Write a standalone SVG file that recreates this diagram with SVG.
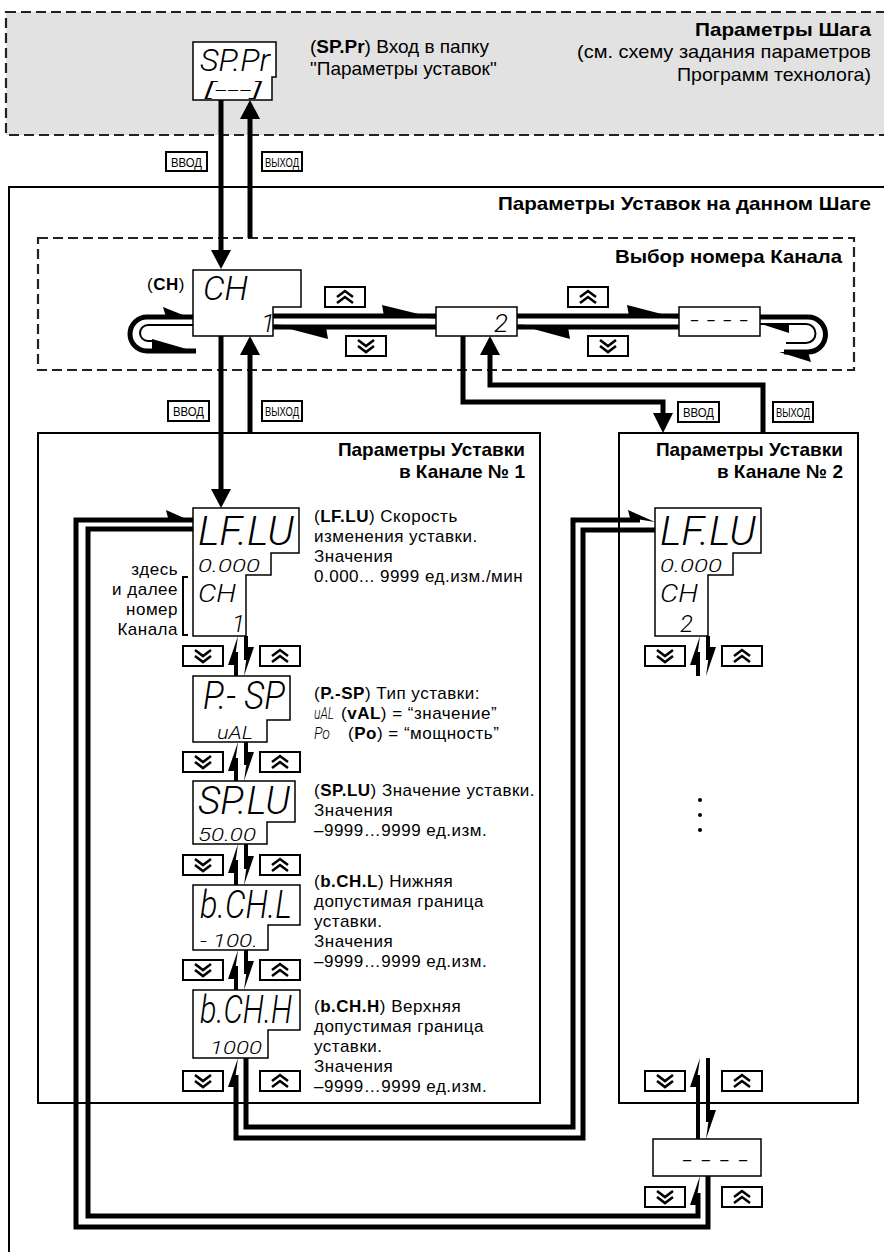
<svg xmlns="http://www.w3.org/2000/svg" xmlns:xlink="http://www.w3.org/1999/xlink" width="884" height="1252" viewBox="0 0 884 1252">
<style>
.ln{fill:none;stroke:#000;stroke-width:5;stroke-linejoin:miter}
.hp{fill:none;stroke:#000;stroke-width:4}
.tn{fill:none;stroke:#000;stroke-width:2}
.disp{fill:#fff;stroke:#000;stroke-width:1.5}
.btn{fill:#fff;stroke:#000;stroke-width:2}
.chev{fill:none;stroke:#000;stroke-width:2.6}
.seg{font-family:"DejaVu Sans ExtraLight",Roboto,"DejaVu Sans",sans-serif;font-weight:300;font-style:italic;fill:#000}
.t{font-family:"Liberation Sans",Arial,sans-serif;font-size:17px;letter-spacing:0.5px;fill:#000}
.t19{font-family:"Liberation Sans",Arial,sans-serif;font-size:19px;fill:#000}
.h{font-family:"Liberation Sans",Arial,sans-serif;font-size:19px;font-weight:bold;fill:#000}
.b{font-weight:bold}
.lbl{font-family:"Liberation Sans",Arial,sans-serif;font-size:13px;fill:#000}
.dash{fill:none;stroke:#222;stroke-width:2.2;stroke-dasharray:10 5}
.frame{fill:none;stroke:#000;stroke-width:2}
</style>
<defs>
<g id="bu"><rect class="btn" x="0" y="0" width="40" height="20"/><polyline class="chev" points="12,10 20,4 28,10"/><polyline class="chev" points="12,16 20,10 28,16"/></g>
<g id="bd"><rect class="btn" x="0" y="0" width="40" height="20"/><polyline class="chev" points="12,4 20,10 28,4"/><polyline class="chev" points="12,10 20,16 28,10"/></g>
</defs>

<g id="step-area">
<rect x="6" y="12" width="890" height="123" fill="#e2e2e2" stroke="#222" stroke-width="2.2" stroke-dasharray="10 5"/>
<text class="h" x="871" y="36" text-anchor="end" textLength="176" lengthAdjust="spacingAndGlyphs">Параметры Шага</text>
<text class="t19" x="871" y="58" text-anchor="end" textLength="294" lengthAdjust="spacingAndGlyphs">(см. схему задания параметров</text>
<text class="t19" x="871" y="81" text-anchor="end" textLength="194" lengthAdjust="spacingAndGlyphs">Программ технолога)</text>
</g>
<g id="setpoints-area">
<path class="frame" d="M890,187 H9 V1260"/>
<text class="h" x="871" y="210" text-anchor="end" textLength="373" lengthAdjust="spacingAndGlyphs">Параметры Уставок на данном Шаге</text>
</g>
<g id="channel-select">
<rect class="dash" x="38" y="238" width="816" height="132"/>
<text class="h" x="842" y="263" text-anchor="end" textLength="227" lengthAdjust="spacingAndGlyphs">Выбор номера Канала</text>
</g>
<g id="panel1">
<rect class="frame" x="38" y="433" width="502" height="670"/>
<text class="h" x="525" y="456" text-anchor="end">Параметры Уставки</text>
<text class="h" x="525" y="478" text-anchor="end">в Канале № 1</text>
</g>
<g id="panel2">
<rect class="frame" x="619" y="433" width="239" height="670"/>
<text class="h" x="843" y="456" text-anchor="end">Параметры Уставки</text>
<text class="h" x="843" y="478" text-anchor="end">в Канале № 2</text>
</g>

<g id="connectors">
<line class="ln" x1="221" y1="100" x2="221" y2="252"/>
<polygon points="211,250 231,250 221,269"/>
<line class="ln" x1="250" y1="238" x2="250" y2="117"/>
<polygon points="240,119 260,119 250,100"/>
<line class="ln" x1="221" y1="336" x2="221" y2="491"/>
<polygon points="211,489 231,489 221,508"/>
<line class="ln" x1="250" y1="433" x2="250" y2="353"/>
<polygon points="240,355 260,355 250,336"/>
<path class="ln" d="M463,336 V402 H663 V415"/>
<polygon points="653,413 673,413 663,433"/>
<path class="ln" d="M763,433 V385 H490 V353"/>
<polygon points="480,355 500,355 490,336"/>
<line class="ln" x1="273" y1="316" x2="437" y2="316"/>
<polygon points="437,318.5 382,305 384,316"/>
<line class="ln" x1="273" y1="327" x2="437" y2="327"/>
<polygon points="273,324.5 328,339 326,327"/>
<line class="ln" x1="517" y1="316" x2="679" y2="316"/>
<polygon points="679,318.5 627,305 629,316"/>
<line class="ln" x1="517" y1="327" x2="679" y2="327"/>
<polygon points="517,324.5 570,339 568,327"/>
<path class="ln" stroke-width="4.5" d="M193,317 H147 A17,17 0 0 0 147,351 H196"/>
<path class="tn" d="M193,325 H148 A8,8 0 0 0 148,341 H154"/>
<polygon points="193,319 163,307 166,317"/>
<polygon points="152,339 197,352 152,350"/>
<path class="ln" stroke-width="4.5" d="M760,317 H808 A17.5,17.5 0 0 1 808,352 H784"/>
<path class="tn" d="M760,324 H806 A9.5,9.5 0 0 1 806,343 H786"/>
<polygon points="761,324 789,333 789,325"/>
<polygon points="779,352 811,362 808,352"/>
<path class="ln" d="M193,520 H76 V1227 H708 V1176"/>
<polygon points="193,522 166,510 168,518"/>
<path class="ln" d="M193,529 H88 V1216 H698 V1193"/>
<polygon points="700,1176 690,1205 696,1205"/>
<path class="ln" d="M246,1058 V1127 H573 V520 H640"/>
<polygon points="655,522 628,510 630,518"/>
<path class="ln" d="M655,530 H583 V1138 H236 V1075"/>
<polygon points="238,1058 228,1087 234,1087"/>
<line class="hp" x1="698" y1="1075" x2="698" y2="1139"/>
<polygon points="700,1058 690,1087 696,1087"/>
<line class="hp" x1="708" y1="1058" x2="708" y2="1122"/>
<polygon points="706,1139 716,1110 710,1110"/>
<line class="hp" x1="236" y1="652" x2="236" y2="676"/><polygon points="238,636 228,665 234,665"/>
<line class="hp" x1="246" y1="636" x2="246" y2="660"/><polygon points="244,676 254,647 248,647"/>
<line class="hp" x1="236" y1="758" x2="236" y2="781"/><polygon points="238,742 228,771 234,771"/>
<line class="hp" x1="246" y1="742" x2="246" y2="765"/><polygon points="244,781 254,752 248,752"/>
<line class="hp" x1="236" y1="860" x2="236" y2="885"/><polygon points="238,844 228,873 234,873"/>
<line class="hp" x1="246" y1="844" x2="246" y2="869"/><polygon points="244,885 254,856 248,856"/>
<line class="hp" x1="236" y1="966" x2="236" y2="990"/><polygon points="238,950 228,979 234,979"/>
<line class="hp" x1="246" y1="950" x2="246" y2="974"/><polygon points="244,990 254,961 248,961"/>
<line class="hp" x1="698" y1="652" x2="698" y2="676"/><polygon points="700,636 690,665 696,665"/>
<line class="hp" x1="708" y1="636" x2="708" y2="660"/><polygon points="706,676 716,647 710,647"/>
</g>

<g id="buttons">
<use xlink:href="#bu" x="325" y="287"/>
<use xlink:href="#bd" x="346" y="336"/>
<use xlink:href="#bu" x="568" y="287"/>
<use xlink:href="#bd" x="588" y="336"/>
<use xlink:href="#bd" x="183" y="646"/><use xlink:href="#bu" x="260" y="646"/>
<use xlink:href="#bd" x="183" y="752"/><use xlink:href="#bu" x="260" y="752"/>
<use xlink:href="#bd" x="183" y="855"/><use xlink:href="#bu" x="260" y="855"/>
<use xlink:href="#bd" x="183" y="960"/><use xlink:href="#bu" x="260" y="960"/>
<use xlink:href="#bd" x="183" y="1071"/><use xlink:href="#bu" x="260" y="1071"/>
<use xlink:href="#bd" x="645" y="646"/><use xlink:href="#bu" x="722" y="646"/>
<use xlink:href="#bd" x="645" y="1071"/><use xlink:href="#bu" x="722" y="1071"/>
<use xlink:href="#bd" x="645" y="1187"/><use xlink:href="#bu" x="722" y="1187"/>
</g>
<g id="keys">
<rect class="btn" x="166" y="152" width="41" height="19"/><text class="lbl" x="171" y="167" textLength="31" lengthAdjust="spacingAndGlyphs">ВВОД</text>
<rect class="btn" x="262" y="152" width="40" height="19"/><text class="lbl" x="265" y="167" textLength="34" lengthAdjust="spacingAndGlyphs">ВЫХОД</text>
<rect class="btn" x="168" y="401" width="41" height="20"/><text class="lbl" x="173" y="416" textLength="31" lengthAdjust="spacingAndGlyphs">ВВОД</text>
<rect class="btn" x="262" y="401" width="40" height="20"/><text class="lbl" x="265" y="416" textLength="34" lengthAdjust="spacingAndGlyphs">ВЫХОД</text>
<rect class="btn" x="678" y="402" width="41" height="20"/><text class="lbl" x="683" y="417" textLength="31" lengthAdjust="spacingAndGlyphs">ВВОД</text>
<rect class="btn" x="773" y="402" width="40" height="20"/><text class="lbl" x="776" y="417" textLength="34" lengthAdjust="spacingAndGlyphs">ВЫХОД</text>
</g>

<g id="node-sppr">
<path class="disp" d="M193,42 H276 V77 H272 V100 H193 Z"/>
<text class="seg" x="200" y="71" font-size="32" textLength="70" lengthAdjust="spacingAndGlyphs">SP.Pr</text>
<text class="seg" x="204" y="96" font-size="18" textLength="58" lengthAdjust="spacingAndGlyphs">[---]</text>
<text class="t19" x="310" y="53"><tspan>(</tspan><tspan class="b">SP.Pr</tspan><tspan>) Вход в папку</tspan></text>
<text class="t19" x="310" y="75">"Параметры уставок"</text>
</g>
<g id="node-ch">
<path class="disp" d="M193,270 H301 V307 H273 V336 H193 Z"/>
<text class="seg" x="203" y="300" font-size="34" textLength="45" lengthAdjust="spacingAndGlyphs">CH</text>
<text class="seg" x="261" y="332" font-size="26">1</text>
<text class="t" x="147" y="290"><tspan>(</tspan><tspan class="b">CH</tspan><tspan>)</tspan></text>
</g>
<g id="node-ch2">
<rect class="disp" x="436" y="307" width="81" height="29"/>
<text class="seg" x="494" y="332" font-size="26">2</text>
</g>
<g id="node-chn">
<rect class="disp" x="679" y="307" width="81" height="29"/>
<text class="seg" x="690" y="328" font-size="22" textLength="58" lengthAdjust="spacingAndGlyphs">- - - -</text>
</g>

<g id="node-lflu-1">
<path class="disp" d="M193,508 H299 V553 H271 V575 H246 V636 H193 Z"/>
<text class="seg" x="198" y="545" font-size="40" textLength="96" lengthAdjust="spacingAndGlyphs">LF.LU</text>
<text class="seg" x="198" y="572" font-size="18" textLength="62" lengthAdjust="spacingAndGlyphs">0.000</text>
<text class="seg" x="198" y="602" font-size="26" textLength="38" lengthAdjust="spacingAndGlyphs">CH</text>
<text class="seg" x="232" y="632" font-size="24">1</text>
<text class="t" x="314" y="522"><tspan>(</tspan><tspan class="b">LF.LU</tspan><tspan>) Скорость</tspan></text>
<text class="t" x="314" y="542">изменения уставки.</text>
<text class="t" x="314" y="562">Значения</text>
<text class="t" x="314" y="582">0.000... 9999 ед.изм./мин</text>
<text class="t" x="178" y="575" text-anchor="end">здесь</text>
<text class="t" x="178" y="595" text-anchor="end">и далее</text>
<text class="t" x="178" y="615" text-anchor="end">номер</text>
<text class="t" x="178" y="635" text-anchor="end">Канала</text>
<path class="tn" stroke-width="1.5" d="M188,577 H183 V635 H188"/>
</g>
<g id="node-psp">
<path class="disp" d="M193,676 H290 V720 H267 V742 H193 Z"/>
<text class="seg" x="203" y="709" font-size="38" textLength="82" lengthAdjust="spacingAndGlyphs">P.- SP</text>
<text class="seg" x="217" y="739" font-size="19" textLength="36" lengthAdjust="spacingAndGlyphs">uAL</text>
<text class="t" x="314" y="699"><tspan>(</tspan><tspan class="b">P.-SP</tspan><tspan>) Тип уставки:</tspan></text>
<text class="seg" x="314" y="719" font-size="16" textLength="20" lengthAdjust="spacingAndGlyphs">uAL</text>
<text class="t" x="341" y="719"><tspan>(</tspan><tspan class="b">vAL</tspan><tspan>) = “значение”</tspan></text>
<text class="seg" x="314" y="739" font-size="16" textLength="16" lengthAdjust="spacingAndGlyphs">Po</text>
<text class="t" x="348" y="739"><tspan>(</tspan><tspan class="b">Po</tspan><tspan>) = “мощность”</tspan></text>
</g>
<g id="node-splu">
<path class="disp" d="M193,781 H295 V822 H267 V844 H193 Z"/>
<text class="seg" x="198" y="814" font-size="38" textLength="92" lengthAdjust="spacingAndGlyphs">SP.LU</text>
<text class="seg" x="198" y="841" font-size="18" textLength="58" lengthAdjust="spacingAndGlyphs">50.00</text>
<text class="t" x="314" y="796"><tspan>(</tspan><tspan class="b">SP.LU</tspan><tspan>) Значение уставки.</tspan></text>
<text class="t" x="314" y="816">Значения</text>
<text class="t" x="314" y="836">–9999…9999 ед.изм.</text>
</g>
<g id="node-bchl">
<path class="disp" d="M193,885 H300 V925 H268 V950 H193 Z"/>
<text class="seg" x="200" y="918" font-size="38" textLength="92" lengthAdjust="spacingAndGlyphs">b.CH.L</text>
<text class="seg" x="200" y="947" font-size="19" textLength="58" lengthAdjust="spacingAndGlyphs">- 100.</text>
<text class="t" x="314" y="887"><tspan>(</tspan><tspan class="b">b.CH.L</tspan><tspan>) Нижняя</tspan></text>
<text class="t" x="314" y="907">допустимая граница</text>
<text class="t" x="314" y="927">уставки.</text>
<text class="t" x="314" y="947">Значения</text>
<text class="t" x="314" y="967">–9999…9999 ед.изм.</text>
</g>
<g id="node-bchh">
<path class="disp" d="M193,990 H300 V1030 H268 V1058 H193 Z"/>
<text class="seg" x="200" y="1023" font-size="38" textLength="92" lengthAdjust="spacingAndGlyphs">b.CH.H</text>
<text class="seg" x="210" y="1054" font-size="19" textLength="52" lengthAdjust="spacingAndGlyphs">1000</text>
<text class="t" x="314" y="1012"><tspan>(</tspan><tspan class="b">b.CH.H</tspan><tspan>) Верхняя</tspan></text>
<text class="t" x="314" y="1032">допустимая граница</text>
<text class="t" x="314" y="1052">уставки.</text>
<text class="t" x="314" y="1072">Значения</text>
<text class="t" x="314" y="1092">–9999…9999 ед.изм.</text>
</g>
<g id="node-lflu-2">
<path class="disp" d="M655,508 H761 V553 H733 V575 H708 V636 H655 Z"/>
<text class="seg" x="660" y="545" font-size="40" textLength="96" lengthAdjust="spacingAndGlyphs">LF.LU</text>
<text class="seg" x="660" y="572" font-size="18" textLength="62" lengthAdjust="spacingAndGlyphs">0.000</text>
<text class="seg" x="660" y="602" font-size="26" textLength="38" lengthAdjust="spacingAndGlyphs">CH</text>
<text class="seg" x="680" y="632" font-size="24">2</text>
</g>
<g id="dots">
<circle cx="700" cy="800" r="2"/><circle cx="700" cy="815" r="2"/><circle cx="700" cy="830" r="2"/>
</g>
<g id="node-last">
<rect class="disp" x="653" y="1139" width="108" height="37"/>
<text class="seg" x="682" y="1168" font-size="22" textLength="66" lengthAdjust="spacingAndGlyphs">- - - -</text>
</g>
</svg>
